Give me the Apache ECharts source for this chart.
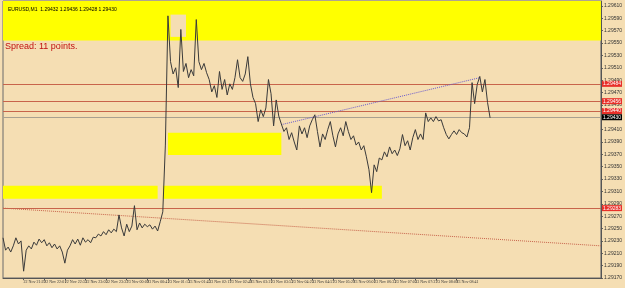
<!DOCTYPE html>
<html>
<head>
<meta charset="utf-8">
<script src="https://cdn.jsdelivr.net/npm/echarts@6/dist/echarts.min.js"></script>
<style>
html,body{margin:0;padding:0;background:#f5deb3;}
#chart{width:625px;height:288px;}
</style>
</head>
<body>
<div id="chart"></div>
<script>
// EURUSD M1, 22-23 Nov 2012, one point every 4 minutes
var priceLine = [
	1.29235, 1.29215, 1.29220, 1.29212, 1.29222, 1.29235, 1.29225, 1.29230, 1.29181, 1.29215,
	1.29222, 1.29217, 1.29228, 1.29223, 1.29233, 1.29227, 1.29232, 1.29222, 1.29227, 1.29219,
	1.29225, 1.29217, 1.29222, 1.29212, 1.29194, 1.29215, 1.29222, 1.29232, 1.29225, 1.29233,
	1.29223, 1.29235, 1.29228, 1.29232, 1.29227, 1.29236, 1.29235, 1.29241, 1.29238, 1.29245,
	1.29240, 1.29248, 1.29243, 1.29249, 1.29245, 1.29272, 1.29251, 1.29238, 1.29257, 1.29245,
	1.29254, 1.29287, 1.29248, 1.29259, 1.29251, 1.29257, 1.29253, 1.29256, 1.29249, 1.29254,
	1.29246, 1.29261, 1.29277, 1.29385, 1.29594,
	1.29520, 1.29500, 1.29510, 1.29478, 1.29572, 1.29504, 1.29517, 1.29494, 1.29507, 1.29497,
	1.29588, 1.29520, 1.29507, 1.29517, 1.29502, 1.29491, 1.29471, 1.29481, 1.29462, 1.29504,
	1.29475, 1.29491, 1.29466, 1.29484, 1.29475, 1.29494, 1.29523, 1.29494, 1.29488, 1.29500,
	1.29528, 1.29484, 1.29462, 1.29452, 1.29423, 1.29442, 1.29431, 1.29445, 1.29491, 1.29468,
	1.29416, 1.29458, 1.29432, 1.29419,
	1.29407, 1.29413, 1.29394, 1.29405, 1.29390, 1.29377, 1.29416, 1.29403, 1.29413, 1.29397,
	1.29416, 1.29426, 1.29434, 1.29407, 1.29382, 1.29403, 1.29394, 1.29410, 1.29423, 1.29400,
	1.29382, 1.29403, 1.29413, 1.29400, 1.29423, 1.29407, 1.29394, 1.29400, 1.29385, 1.29390,
	1.29377, 1.29384, 1.29366, 1.29345, 1.29308,
	1.29353, 1.29342, 1.29364, 1.29361, 1.29374, 1.29366, 1.29382, 1.29371, 1.29377, 1.29368,
	1.29379, 1.29402, 1.29384, 1.29392, 1.29377, 1.29397, 1.29410, 1.29394, 1.29403, 1.29394,
	1.29437, 1.29423, 1.29429, 1.29423, 1.29431, 1.29424, 1.29426, 1.29413, 1.29402, 1.29395,
	1.29402, 1.29408, 1.29402, 1.29410, 1.29405, 1.29403, 1.29398, 1.29413, 1.29486, 1.29452,
	1.29483, 1.29496, 1.29471, 1.29491, 1.29454, 1.29429
];

// x axis labels, one every 32 minutes
var xTickLabels = [
	'22 Nov 2012', '22 Nov 21:29', '22 Nov 22:01', '22 Nov 22:33', '22 Nov 23:05', '22 Nov 23:37',
	'23 Nov 00:09', '23 Nov 00:41', '23 Nov 01:13', '23 Nov 01:45', '23 Nov 02:17', '23 Nov 02:49',
	'23 Nov 03:21', '23 Nov 03:53', '23 Nov 04:25', '23 Nov 04:57', '23 Nov 05:29', '23 Nov 06:01',
	'23 Nov 06:33', '23 Nov 07:05', '23 Nov 07:37', '23 Nov 08:09', '23 Nov 08:41', '23 Nov 09:13'
];

// horizontal levels
var redLevels = [1.29484, 1.29456, 1.29440, 1.29283];
var bidPrice = 1.29430;

// zones [fromIndex, toIndex, low, high]
var yellowZones = [
	[64, 108, 1.29369, 1.29405],
	[0, 60, 1.29298, 1.29319],
	[62, 147, 1.29298, 1.29319]
];
var topZoneLow = 1.29554;
var cutoutZone = [65, 71, 1.29560, 1.29596];

// trend lines [fromIndex, fromPrice, toIndex, toPrice]
var blueTrend = [108, 1.29418, 185, 1.29494];
var redTrend = [0, 1.29283, 232, 1.29222];

var yMin = 1.29170, yMax = 1.29618, yStep = 0.0002;
var totalSlots = 233; //4 min per slot, right side left empty like MT4 chart shift

// build time categories
var cats = [];
for (var i = 0; i < totalSlots; i++) {
	var m = (20 * 60 + 57 + i * 4) % 1440;
	var hh = Math.floor(m / 60), mm = m % 60;
	cats.push((hh < 10 ? '0' : '') + hh + ':' + (mm < 10 ? '0' : '') + mm);
}

var showTick = function(index) {
	return index % 8 === 0 && index / 8 < xTickLabels.length;
};

var zoneData = [[{yAxis: topZoneLow}, {yAxis: yMax}]];
for (var i = 0; i < yellowZones.length; i++) {
	var z = yellowZones[i];
	zoneData.push([{xAxis: cats[z[0]], yAxis: z[2]}, {xAxis: cats[z[1]], yAxis: z[3]}]);
}

var levelLabel = function(bg) {
	return {
		show: true,
		position: 'end',
		distance: 1,
		formatter: function(p) { return Number(p.value).toFixed(5); },
		backgroundColor: bg,
		color: '#fff',
		fontSize: 5,
		fontFamily: 'Liberation Sans',
		padding: [1, 1, 0, 1]
	};
};

var lineData = [];
for (var i = 0; i < redLevels.length; i++) {
	lineData.push([
		{coord: [cats[0], redLevels[i]], value: redLevels[i], lineStyle: {color: '#c8644b', type: 'solid', width: 1}, label: levelLabel('#e8302a')},
		{coord: [cats[totalSlots - 1], redLevels[i]]}
	]);
}
lineData.push([
	{coord: [cats[0], bidPrice], value: bidPrice, lineStyle: {color: '#a8a090', type: 'solid', width: 1}, label: levelLabel('#000')},
	{coord: [cats[totalSlots - 1], bidPrice]}
]);
lineData.push([
	{coord: [cats[blueTrend[0]], blueTrend[1]], lineStyle: {color: '#6a5acd', type: 'dotted', width: 1}, label: {show: false}},
	{coord: [cats[blueTrend[2]], blueTrend[3]]}
]);
lineData.push([
	{coord: [cats[redTrend[0]], redTrend[1]], lineStyle: {color: '#c8644b', type: 'dotted', width: 1}, label: {show: false}},
	{coord: [cats[redTrend[2]], redTrend[3]]}
]);

var myChart = echarts.init(document.getElementById('chart'));
var option = {
	animation: false,
	backgroundColor: '#f5deb3',
	title: {
		text: 'EURUSD,M1  1.29432 1.29436 1.29428 1.29430',
		left: 3,
		top: 2,
		textStyle: {fontSize: 5, fontWeight: 'normal', color: '#000', fontFamily: 'Liberation Sans'}
	},
	graphic: [{
		type: 'text',
		left: 5,
		top: 42,
		z: 100,
		style: {text: 'Spread: 11 points.', fill: '#c01010', fontSize: 9, fontFamily: 'Liberation Sans'}
	}],
	grid: {
		left: 2,
		right: 19,
		top: 1,
		bottom: 10,
		show: true,
		borderColor: '#6a6a6a',
		borderWidth: 1
	},
	xAxis: {
		type: 'category',
		data: cats,
		boundaryGap: false,
		axisLine: {lineStyle: {color: '#555'}},
		axisTick: {interval: function(i) { return showTick(i); }, length: 2, lineStyle: {color: '#555'}},
		axisLabel: {
			interval: function(i) { return showTick(i); },
			formatter: function(v, i) { return xTickLabels[i / 8]; },
			align: 'left',
			margin: 2,
			fontSize: 4,
			color: '#333',
			fontFamily: 'Liberation Sans Narrow',
			hideOverlap: false
		},
		splitLine: {show: false}
	},
	yAxis: {
		type: 'value',
		position: 'right',
		min: yMin,
		max: yMax,
		interval: yStep,
		axisLine: {show: true, lineStyle: {color: '#555'}},
		axisTick: {show: true, length: 2, lineStyle: {color: '#555'}},
		axisLabel: {
			margin: 3,
			fontSize: 5,
			color: '#333',
			fontFamily: 'Liberation Sans',
			showMaxLabel: false,
			formatter: function(v) {
				var k = Math.round((v - yMin) / yStep);
				if (Math.abs(yMin + k * yStep - v) > 1e-7) return '';
				return v.toFixed(5);
			}
		},
		splitLine: {show: false}
	},
	series: [{
		//yellow zones
		type: 'line',
		data: [],
		z: 1,
		markArea: {silent: true, itemStyle: {color: '#ffff00'}, data: zoneData}
	}, {
		type: 'line',
		data: [],
		z: 2,
		markArea: {
			silent: true,
			itemStyle: {color: '#f5deb3'},
			data: [[{xAxis: cats[cutoutZone[0]], yAxis: cutoutZone[2]}, {xAxis: cats[cutoutZone[1]], yAxis: cutoutZone[3]}]]
		}
	}, {
		name: 'EURUSD',
		type: 'line',
		data: priceLine,
		z: 5,
		symbol: 'none',
		lineStyle: {color: '#3a3a3a', width: 1},
		//levels and trend lines
		markLine: {silent: true, symbol: ['none', 'none'], animation: false, data: lineData}
	}]
};
myChart.setOption(option);
</script>
</body>
</html>
